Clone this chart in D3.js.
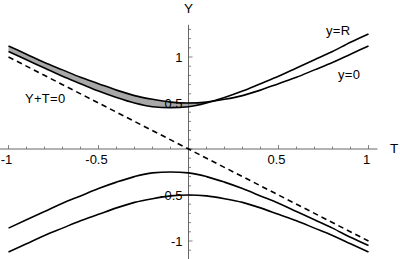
<!DOCTYPE html>
<html>
<head>
<meta charset="utf-8">
<script src="https://cdn.jsdelivr.net/npm/d3@7"></script>
<style>
  body { margin: 0; background: white; }
  text { font-family: "Liberation Sans", Arial, sans-serif; font-size: 13px; fill: black; }
</style>
</head>
<body>
<div id="chart"></div>
<script>
// values
const tValues = [-1, -0.9, -0.8, -0.7, -0.6, -0.5, -0.4, -0.3, -0.2, -0.1, 0, 0.1, 0.2, 0.3, 0.4, 0.5, 0.6, 0.7, 0.8, 0.9, 1];
const yZeroUpper = [1.12, 1.03, 0.94, 0.86, 0.78, 0.71, 0.64, 0.58, 0.54, 0.51, 0.50, 0.51, 0.54, 0.58, 0.64, 0.71, 0.78, 0.86, 0.94, 1.03, 1.12];
const yZeroLower = [-1.12, -1.03, -0.94, -0.86, -0.78, -0.71, -0.64, -0.58, -0.54, -0.51, -0.50, -0.51, -0.54, -0.58, -0.64, -0.71, -0.78, -0.86, -0.94, -1.03, -1.12];
const yRUpper = [1.06, 0.97, 0.88, 0.79, 0.71, 0.63, 0.56, 0.50, 0.46, 0.45, 0.46, 0.50, 0.56, 0.63, 0.71, 0.79, 0.88, 0.97, 1.06, 1.16, 1.25];
const yRLower = [-0.86, -0.77, -0.68, -0.59, -0.51, -0.43, -0.36, -0.30, -0.26, -0.25, -0.26, -0.30, -0.36, -0.43, -0.51, -0.59, -0.68, -0.77, -0.86, -0.96, -1.05];
const dashT = [-1, 1];
const dashY = [1, -1];
const xTicks = [-1, -0.5, 0.5, 1];
const yTicks = [-1, -0.5, 0.5, 1];
const xTickLabels = ["-1", "-0.5", "0.5", "1"];
const yTickLabels = ["-1", "-0.5", "0.5", "1"];

const w = 400;
const h = 259;

const xScale = d3.scaleLinear().domain([-1, 1]).range([8.5, 368.5]);
const yScale = d3.scaleLinear().domain([-1, 1]).range([241, 57]);

const svg = d3.select("#chart")
              .append("svg")
              .attr("width", w)
              .attr("height", h)
              .style("display", "block");

const toPts = (ys) => tValues.map((t, i) => [t, ys[i]]);

// shaded band between the upper branches (left of where they cross)
const band = tValues.map((t, i) => [t, yRUpper[i], Math.max(yRUpper[i], yZeroUpper[i])]);
svg.append("path")
   .datum(band)
   .attr("d", d3.area()
                .x(d => xScale(d[0]))
                .y0(d => yScale(d[1]))
                .y1(d => yScale(d[2]))
                .curve(d3.curveMonotoneX))
   .attr("fill", "#a8a8a8");

// axes through the origin
const axisColor = "#666";
const x0 = xScale(0), y0 = yScale(0);
svg.append("line")
   .attr("x1", xScale(-1.05)).attr("x2", xScale(1.05))
   .attr("y1", y0).attr("y2", y0)
   .attr("stroke", axisColor).attr("stroke-width", 1);
svg.append("line")
   .attr("x1", x0).attr("x2", x0)
   .attr("y1", yScale(1.35)).attr("y2", h)
   .attr("stroke", axisColor).attr("stroke-width", 1);

const minorX = d3.range(-10, 11).map(i => i / 10);
svg.selectAll(".xtick")
   .data(minorX)
   .enter()
   .append("line")
   .attr("class", "xtick")
   .attr("x1", d => xScale(d)).attr("x2", d => xScale(d))
   .attr("y1", y0)
   .attr("y2", d => y0 - (Math.abs(d * 2 - Math.round(d * 2)) < 1e-6 ? 4 : 2.5))
   .attr("stroke", axisColor).attr("stroke-width", 0.8);

const minorY = d3.range(-12, 14).map(i => i / 10);
svg.selectAll(".ytick")
   .data(minorY)
   .enter()
   .append("line")
   .attr("class", "ytick")
   .attr("y1", d => yScale(d)).attr("y2", d => yScale(d))
   .attr("x1", x0)
   .attr("x2", d => x0 + (Math.abs(d * 2 - Math.round(d * 2)) < 1e-6 ? 4 : 2.5))
   .attr("stroke", axisColor).attr("stroke-width", 0.8);

svg.selectAll(".xlab")
   .data(xTicks)
   .enter()
   .append("text")
   .attr("class", "xlab")
   .attr("x", d => xScale(d) - 2)
   .attr("y", y0 + 15)
   .attr("text-anchor", "middle")
   .text((d, i) => xTickLabels[i]);

svg.selectAll(".ylab")
   .data(yTicks)
   .enter()
   .append("text")
   .attr("class", "ylab")
   .attr("x", x0 - 6)
   .attr("y", d => yScale(d) + 4.5)
   .attr("text-anchor", "end")
   .text((d, i) => yTickLabels[i]);

svg.append("text").attr("x", 394).attr("y", 153).attr("text-anchor", "middle").style("font-size", "13.5px").text("T");
svg.append("text").attr("x", x0).attr("y", 13).attr("text-anchor", "middle").style("font-size", "13.5px").text("Y");

// curves
const line = d3.line()
               .x(d => xScale(d[0]))
               .y(d => yScale(d[1]))
               .curve(d3.curveMonotoneX);

[yZeroUpper, yZeroLower, yRUpper, yRLower].forEach(ys => {
    svg.append("path")
       .datum(toPts(ys))
       .attr("d", line)
       .attr("fill", "none")
       .attr("stroke", "black")
       .attr("stroke-width", 1.6);
});

svg.append("path")
   .datum(dashT.map((t, i) => [t, dashY[i]]))
   .attr("d", line)
   .attr("fill", "none")
   .attr("stroke", "black")
   .attr("stroke-width", 1.6)
   .attr("stroke-dasharray", "5.5,4");

// curve labels
svg.append("text").attr("x", 326).attr("y", 35).style("letter-spacing", "0.3px").text("y=R");
svg.append("text").attr("x", 338).attr("y", 79).style("letter-spacing", "0.3px").text("y=0");
svg.append("text").attr("x", 25).attr("y", 103).style("letter-spacing", "0.3px").text("Y+T=0");
</script>
</body>
</html>
